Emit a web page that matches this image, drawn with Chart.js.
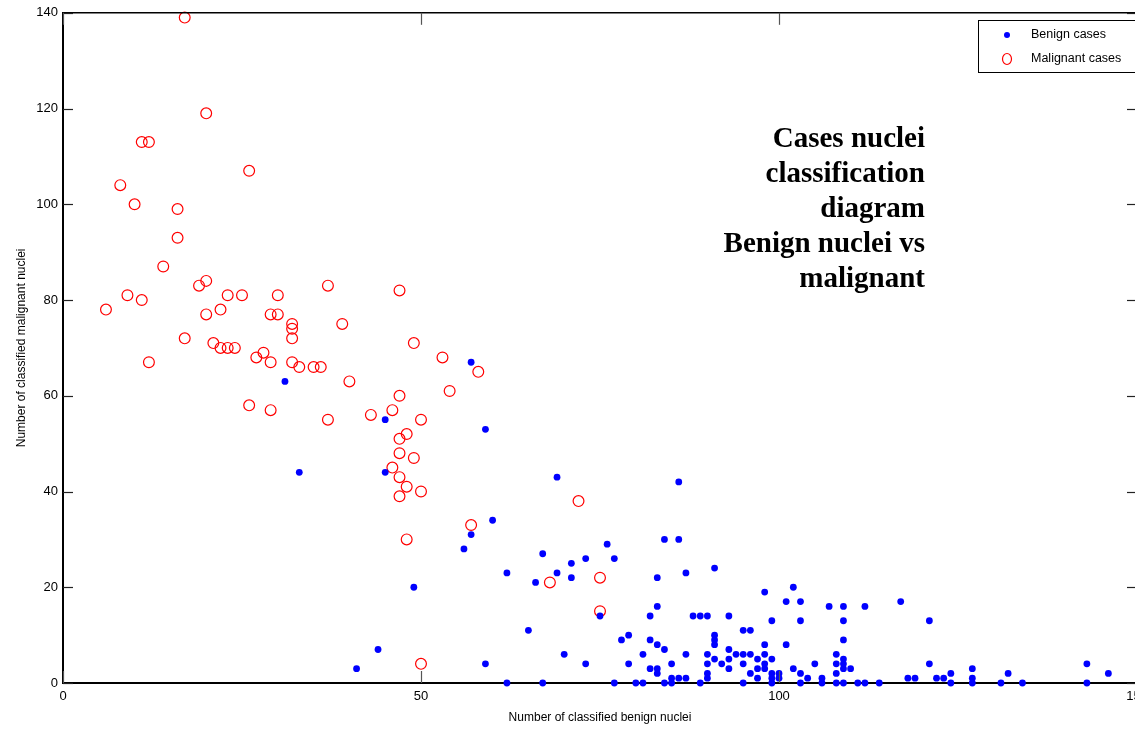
<!DOCTYPE html>
<html>
<head>
<meta charset="utf-8">
<script src="https://cdn.jsdelivr.net/npm/chart.js@4/dist/chart.umd.min.js"></script>
<style>
  html, body { margin: 0; padding: 0; background: #fff; overflow: hidden; }
  #wrap { position: absolute; left: 0; top: 0; width: 1160px; height: 730px; }
</style>
</head>
<body>
<div id="wrap"><canvas id="c" width="1160" height="730"></canvas></div>
<script>
// ---- data ----
const benignX = [31,33,45,45,57,59,69,86,41,44,49,60,57,56,76,67,73,77,71,62,69,71,66,84,86,83,87,91,
  83,82,75,88,89,90,93,65,95,96,79,78,82,83,84,91,91,91,93,70,81,87,90,94,95,96,91,93,97,
  59,73,79,85,90,92,95,82,83,93,97,83,90,96,85,86,87,90,97,62,67,77,80,81,84,85,89,95,
  98,102,101,103,107,109,112,117,99,103,109,121,98,101,109,98,108,99,109,98,105,108,109,121,
  98,102,109,110,99,100,103,108,99,100,104,106,99,103,106,108,109,111,112,114,
  118,119,122,123,124,124,127,127,127,131,132,134,143,143,146];
const benignY = [63,44,55,44,67,53,43,42,3,7,20,34,31,28,29,27,26,26,25,23,23,22,21,30,30,22,23,24,
  16,14,14,14,14,14,14,11,11,11,10,9,9,8,7,10,9,8,7,6,6,6,6,6,6,6,5,5,5,
  4,4,4,4,4,4,4,3,3,3,3,2,2,2,1,1,1,1,1,0,0,0,0,0,0,0,0,0,
  19,20,17,17,16,16,16,17,13,13,13,13,8,8,9,6,6,5,5,4,4,4,4,4,
  3,3,3,3,2,2,2,2,1,1,1,1,0,0,0,0,0,0,0,0,
  1,1,1,1,2,0,3,1,0,0,2,0,4,0,2];
const malignantX = [17,20,11,12,8,10,16,26,16,14,6,9,11,12,17,19,20,20,22,21,22,23,24,23,25,26,27,28,29,29,30,30,29,
  32,32,32,32,33,35,36,37,37,39,40,43,47,49,53,58,54,47,46,50,48,47,47,49,46,47,48,50,47,72,57,48,68,75,75,50];
const malignantY = [139,119,113,113,104,100,99,107,93,87,78,81,80,67,72,83,84,77,78,71,70,70,70,81,81,58,68,69,67,77,77,81,57,
  75,74,72,67,66,66,66,83,55,75,63,56,82,71,68,65,61,60,57,55,52,51,48,47,45,43,41,40,39,38,33,30,21,22,15,4];
const xTicks = [0, 50, 100, 150];
const yTicks = [0, 20, 40, 60, 80, 100, 120, 140];
const titleLines = ['Cases nuclei', 'classification', 'diagram', 'Benign nuclei vs', 'malignant'];
const seriesNames = ['Benign cases', 'Malignant cases'];
const xTitle = 'Number of classified benign nuclei';
const yTitle = 'Number of classified malignant nuclei';

const toPts = (xs, ys) => xs.map((x, i) => ({x: x, y: ys[i]}));

const frameAndTicks = {
  id: 'frameAndTicks',
  afterDraw(chart) {
    const {ctx, chartArea: a, scales} = chart;
    ctx.save();
    // top frame line
    ctx.strokeStyle = '#000';
    ctx.lineWidth = 1.5;
    ctx.beginPath(); ctx.moveTo(a.left, a.top); ctx.lineTo(a.right, a.top); ctx.stroke();
    ctx.beginPath(); ctx.moveTo(a.right, a.top); ctx.lineTo(a.right, a.bottom); ctx.stroke();
    // inside ticks
    ctx.lineWidth = 1.2;
    ctx.strokeStyle = '#222';
    yTicks.forEach(v => {
      const p = Math.round(scales.y.getPixelForValue(v)) + 0.5;
      ctx.beginPath(); ctx.moveTo(a.left, p); ctx.lineTo(a.left + 10, p); ctx.stroke();
      ctx.beginPath(); ctx.moveTo(a.right, p); ctx.lineTo(a.right - 10, p); ctx.stroke();
    });
    ctx.strokeStyle = '#555';
    xTicks.forEach(v => {
      const p = Math.round(scales.x.getPixelForValue(v)) + 0.5;
      ctx.beginPath(); ctx.moveTo(p, a.bottom); ctx.lineTo(p, a.bottom - 12); ctx.stroke();
      ctx.beginPath(); ctx.moveTo(p, a.top); ctx.lineTo(p, a.top + 12); ctx.stroke();
    });
    // text block
    ctx.fillStyle = '#000';
    ctx.font = 'bold 29px "Liberation Serif", "Times New Roman", serif';
    ctx.textAlign = 'right';
    ctx.textBaseline = 'alphabetic';
    titleLines.forEach((t, i) => ctx.fillText(t, 925, 147 + i * 35));
    // legend
    const lx = 978, ly = 20, lw = 180, lh = 52;
    ctx.fillStyle = '#fff';
    ctx.fillRect(lx, ly, lw, lh);
    ctx.strokeStyle = '#000';
    ctx.lineWidth = 1;
    ctx.strokeRect(lx + 0.5, ly + 0.5, lw, lh);
    ctx.font = '12.5px "Liberation Sans", Arial, sans-serif';
    ctx.textAlign = 'left';
    ctx.textBaseline = 'middle';
    const ds = chart.data.datasets;
    // benign
    ctx.fillStyle = ds[0].backgroundColor;
    ctx.beginPath(); ctx.arc(1007, 35, 3, 0, Math.PI * 2); ctx.fill();
    ctx.fillStyle = '#000';
    ctx.fillText(ds[0].label, 1031, 35);
    // malignant
    ctx.strokeStyle = ds[1].borderColor;
    ctx.lineWidth = 1.2;
    ctx.beginPath(); ctx.ellipse(1007, 59, 4.5, 5.5, 0, 0, Math.PI * 2); ctx.stroke();
    ctx.fillText(ds[1].label, 1031, 59);
    ctx.restore();
  }
};

new Chart(document.getElementById('c'), {
  type: 'scatter',
  data: {
    datasets: [
      {
        label: seriesNames[0],
        data: toPts(benignX, benignY),
        pointStyle: 'circle',
        pointRadius: 3.4,
        backgroundColor: '#0000ff',
        borderColor: '#0000ff',
        borderWidth: 0,
        clip: false
      },
      {
        label: seriesNames[1],
        data: toPts(malignantX, malignantY),
        pointStyle: 'circle',
        pointRadius: 5.4,
        backgroundColor: 'rgba(0,0,0,0)',
        borderColor: '#ff0000',
        borderWidth: 1.2,
        clip: false
      }
    ]
  },
  options: {
    responsive: false,
    animation: false,
    devicePixelRatio: 1,
    layout: { padding: { left: 0, right: 23, top: 12, bottom: 0 } },
    plugins: { legend: { display: false }, tooltip: { enabled: false }, title: { display: false } },
    scales: {
      x: {
        type: 'linear', min: 0, max: 150,
        afterBuildTicks: s => { s.ticks = xTicks.map(v => ({value: v})); },
        afterFit: s => { s.height = 47; },
        ticks: { color: '#000', padding: 6, maxRotation: 0, font: { family: '"Liberation Sans", Arial, sans-serif', size: 13 } },
        grid: { drawOnChartArea: false, drawTicks: false },
        border: { display: true, color: '#000', width: 2 },
        title: { display: true, text: xTitle, color: '#000', padding: { top: 0, bottom: 5 },
                 font: { family: '"Liberation Sans", Arial, sans-serif', size: 12 } }
      },
      y: {
        type: 'linear', min: 0, max: 140,
        afterBuildTicks: s => { s.ticks = yTicks.map(v => ({value: v})); },
        afterFit: s => { s.width = 63; },
        ticks: { color: '#000', padding: 5, font: { family: '"Liberation Sans", Arial, sans-serif', size: 13 } },
        grid: { drawOnChartArea: false, drawTicks: false },
        border: { display: true, color: '#000', width: 2 },
        title: { display: true, text: yTitle, color: '#000', padding: { top: 14, bottom: 0 },
                 font: { family: '"Liberation Sans", Arial, sans-serif', size: 12 } }
      }
    }
  },
  plugins: [frameAndTicks]
});
</script>
</body>
</html>
